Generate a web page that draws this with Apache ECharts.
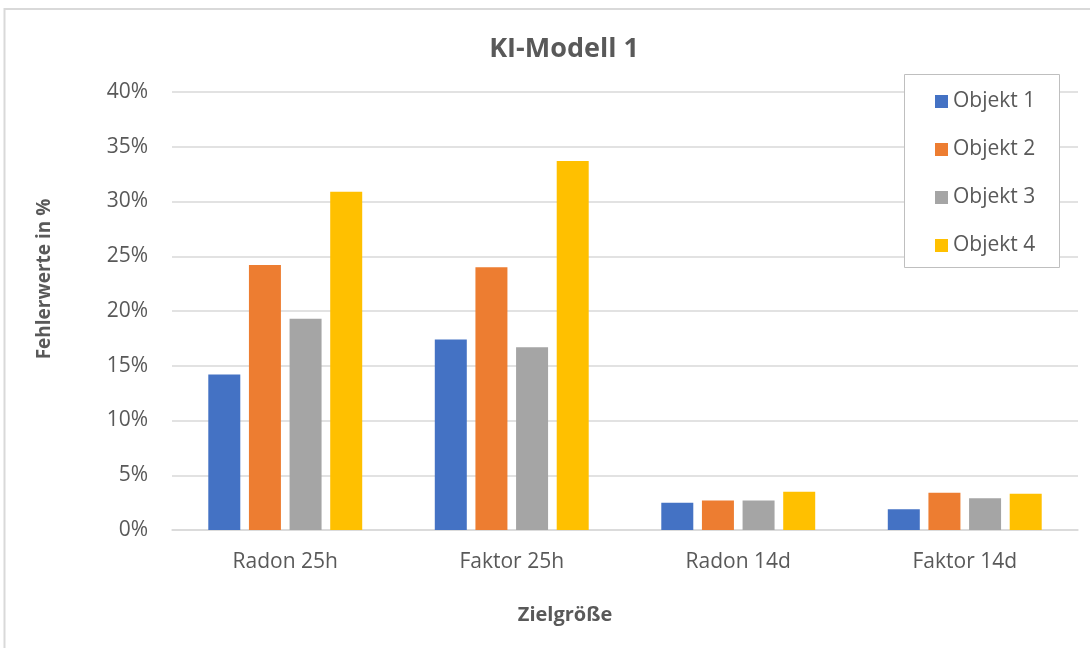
<!DOCTYPE html>
<html>
<head>
<meta charset="utf-8">
<title>KI-Modell 1</title>
<script src="https://cdn.jsdelivr.net/npm/echarts@6/dist/echarts.min.js"></script>
<style>
  html, body { margin: 0; padding: 0; background: #ffffff; }
  #chart { width: 1090px; height: 648px; }
</style>
</head>
<body>
<div id="chart"></div>
<script>
// Target quantities on the x axis
const categories = ['Radon 25h', 'Faktor 25h', 'Radon 14d', 'Faktor 14d'];

// Error values in percent per object
const objekt1 = [14.2, 17.4, 2.5, 1.9];
const objekt2 = [24.2, 24.0, 2.7, 3.4];
const objekt3 = [19.3, 16.7, 2.7, 2.9];
const objekt4 = [30.9, 33.7, 3.5, 3.3];

const seriesNames = ['Objekt 1', 'Objekt 2', 'Objekt 3', 'Objekt 4'];
const seriesValues = [objekt1, objekt2, objekt3, objekt4];
const colors = ['#4472C4', '#ED7D31', '#A5A5A5', '#FFC000'];

// Value axis range and step (percent)
const yMin = 0;
const yMax = 40;
const yStep = 5;

const FONT = '"Open Sans", "Noto Sans", sans-serif';
const TEXT = '#595959';
const GRID = '#d9d9d9';

const chart = echarts.init(document.getElementById('chart'), null, { renderer: 'canvas' });

chart.setOption({
  backgroundColor: '#ffffff',
  animation: false,
  textStyle: { fontFamily: FONT },
  title: {
    text: 'KI-Modell 1',
    left: 559,
    top: 31,
    textAlign: 'center',
    textStyle: { fontFamily: FONT, fontSize: 27, fontWeight: 'bold', color: TEXT }
  },
  legend: {
    orient: 'vertical',
    left: 930,
    top: 86,
    itemWidth: 13,
    itemHeight: 13,
    itemGap: 27,
    icon: 'rect',
    data: seriesNames,
    textStyle: { fontFamily: FONT, fontSize: 21, color: TEXT, lineHeight: 21 }
  },
  grid: { left: 172, right: 12, top: 92, bottom: 118, containLabel: false },
  xAxis: {
    type: 'category',
    data: categories,
    axisLine: { show: true, lineStyle: { color: GRID, width: 1.5 } },
    axisTick: { show: false },
    axisLabel: { fontFamily: FONT, fontSize: 21, color: TEXT, margin: 22 }
  },
  yAxis: {
    type: 'value',
    min: yMin,
    max: yMax,
    interval: yStep,
    axisLine: { show: false },
    axisTick: { show: false },
    splitLine: { lineStyle: { color: GRID, width: 1.5 } },
    axisLabel: { fontFamily: FONT, fontSize: 21, color: TEXT, margin: 24, formatter: '{value}%' }
  },
  series: seriesNames.map((name, i) => ({
    name: name,
    type: 'bar',
    data: seriesValues[i],
    barWidth: 32,
    barGap: '27%',
    itemStyle: { color: colors[i] }
  })),
  graphic: [
    // chart frame
    {
      type: 'rect',
      shape: { x: 4.5, y: 9, width: 1200, height: 800 },
      style: { fill: 'none', stroke: GRID, lineWidth: 2 },
      silent: true,
      z: -1
    },
    // legend box
    {
      type: 'rect',
      shape: { x: 904.5, y: 74.5, width: 155, height: 193 },
      style: { fill: '#ffffff', stroke: '#bfbfbf', lineWidth: 1 },
      silent: true,
      z: 3
    },
    // y axis title
    {
      type: 'text',
      x: 45,
      y: 279,
      rotation: Math.PI / 2,
      style: {
        text: 'Fehlerwerte in %',
        fontFamily: FONT, fontSize: 19, fontWeight: 'bold', fill: TEXT,
        textAlign: 'center', textVerticalAlign: 'middle'
      }
    },
    // x axis title
    {
      type: 'text',
      x: 565,
      y: 615,
      style: {
        text: 'Zielgröße',
        fontFamily: FONT, fontSize: 20, fontWeight: 'bold', fill: TEXT,
        textAlign: 'center', textVerticalAlign: 'middle'
      }
    }
  ]
});
</script>
</body>
</html>
